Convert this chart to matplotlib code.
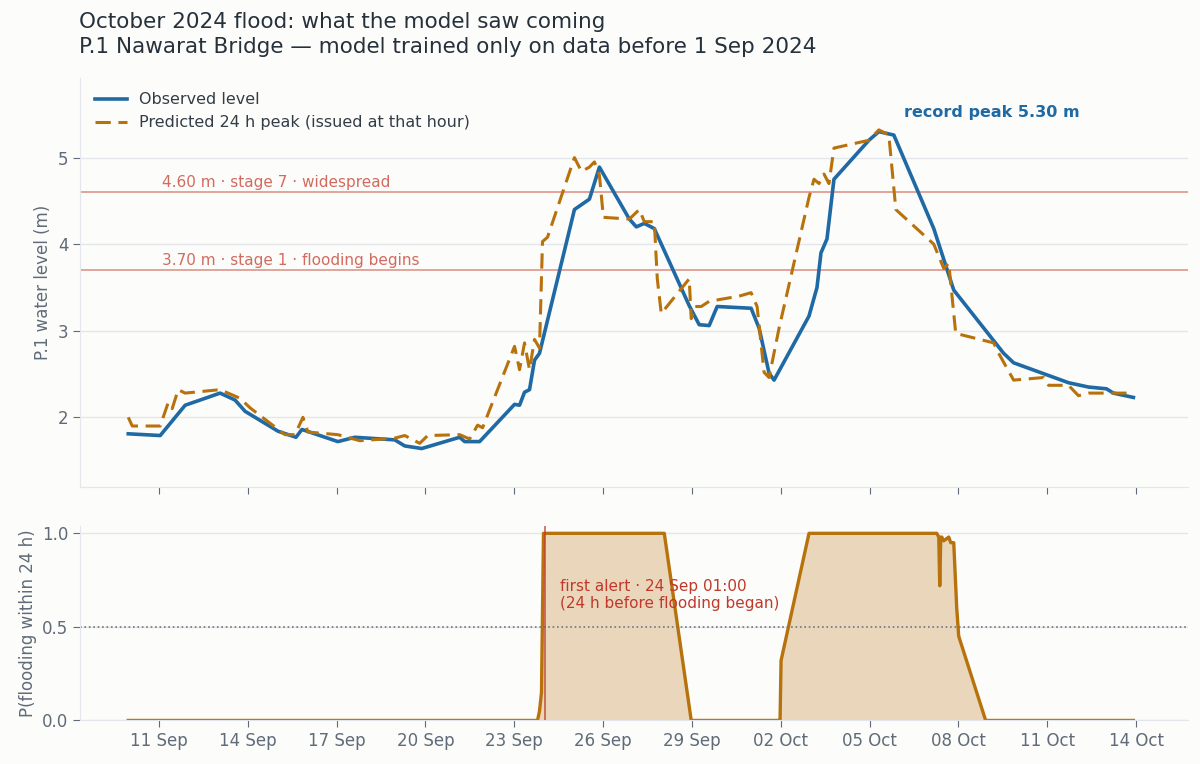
import numpy as np
import matplotlib.pyplot as plt
import matplotlib.dates as mdates
from datetime import datetime, timedelta

T0 = datetime(2024, 9, 10)
PX0, PXD = 129.0, 29.67  # pixel -> day conversion used while reading the picture

# observed level (x pixel, metres)
obs_x = [128, 160, 175, 185, 220, 235, 245, 278, 296, 302, 338, 355, 395, 405, 422, 460, 465, 480,
         515, 520, 525, 530, 535, 540, 575, 590, 600, 630, 637, 645, 655, 690, 700, 710, 718, 752,
         760, 770, 775, 810, 818, 822, 828, 835, 870, 880, 895, 935, 955, 1005, 1015, 1070, 1090,
         1108, 1115, 1135]
obs_y = [1.81, 1.79, 2.0, 2.14, 2.28, 2.2, 2.07, 1.84, 1.77, 1.86, 1.72, 1.77, 1.74, 1.67, 1.64, 1.77,
         1.72, 1.72, 2.15, 2.14, 2.29, 2.32, 2.66, 2.74, 4.40, 4.52, 4.89, 4.29, 4.20, 4.24, 4.18,
         3.29, 3.07, 3.06, 3.28, 3.26, 3.03, 2.51, 2.43, 3.17, 3.5, 3.9, 4.06, 4.75, 5.2, 5.30, 5.26,
         4.18, 3.47, 2.74, 2.63, 2.4, 2.35, 2.33, 2.28, 2.23]

# predicted 24 h peak
pred_x = [128, 132, 160, 168, 172, 178, 185, 220, 240, 250, 285, 295, 303, 308, 338, 360, 395, 405,
          420, 428, 460, 470, 478, 483, 515, 520, 525, 530, 535, 540, 543, 548, 575, 582, 590, 595,
          600, 604, 630, 640, 645, 655, 658, 662, 690, 692, 696, 702, 710, 740, 752, 758, 765, 770,
          780, 810, 815, 820, 825, 830, 835, 870, 880, 890, 897, 935, 945, 950, 957, 995, 1000, 1015,
          1045, 1050, 1070, 1080, 1090, 1135]
pred_y = [2.0, 1.9, 1.9, 2.17, 2.1, 2.32, 2.28, 2.32, 2.22, 2.11, 1.8, 1.8, 2.0, 1.83, 1.8, 1.73,
          1.76, 1.79, 1.7, 1.79, 1.8, 1.75, 1.91, 1.88, 2.82, 2.55, 2.86, 2.55, 2.9, 2.8, 4.03, 4.08,
          5.0, 4.84, 4.89, 4.95, 4.8, 4.31, 4.29, 4.4, 4.26, 4.26, 3.6, 3.2, 3.6, 3.14, 3.28, 3.28,
          3.34, 3.4, 3.44, 3.28, 2.52, 2.46, 3.03, 4.54, 4.75, 4.7, 4.81, 4.7, 5.11, 5.2, 5.32, 5.26,
          4.4, 4.0, 3.72, 3.78, 2.97, 2.86, 2.74, 2.43, 2.46, 2.37, 2.37, 2.25, 2.28, 2.28]

# probability of flooding within 24 h
prob_x = [128, 538, 540, 542, 544, 600, 665, 692, 780, 781, 782, 810, 938, 940, 941, 942, 943, 945,
          950, 952, 955, 958, 960, 987, 1135]
prob_y = [0, 0, 0.05, 0.15, 1.0, 1.0, 1.0, 0, 0, 0.0, 0.32, 1.0, 1.0, 0.98, 0.72, 0.98, 0.98, 0.96,
          0.98, 0.95, 0.95, 0.6, 0.45, 0, 0]


def to_dates(px):
    return [T0 + timedelta(days=(p - PX0) / PXD) for p in px]


BG = '#fcfcfa'
BLUE = '#1f6aa5'
ORANGE = '#b8720c'
RED = '#d26b5f'
GRID = '#e3e6ea'
TXT = '#5f6b78'

plt.rcParams['font.family'] = ['DejaVu Sans']
fig, (ax, ax2) = plt.subplots(2, 1, figsize=(12, 7.64), dpi=100, sharex=True,
                              gridspec_kw={'height_ratios': [2.1, 1], 'hspace': 0.13})
fig.patch.set_facecolor(BG)
fig.subplots_adjust(left=0.067, right=0.99, top=0.898, bottom=0.057)

for a in (ax, ax2):
    a.set_facecolor(BG)
    a.grid(axis='y', color=GRID, lw=1)
    a.set_axisbelow(True)
    for s in ('top', 'right'):
        a.spines[s].set_visible(False)
    for s in ('left', 'bottom'):
        a.spines[s].set_color(GRID)
    a.tick_params(colors=TXT, labelsize=12, length=5)

ax.axhline(4.6, color=RED, lw=1.2, alpha=0.7)
ax.axhline(3.7, color=RED, lw=1.2, alpha=0.7)
ax.text(to_dates([162])[0], 4.66, '4.60 m · stage 7 · widespread', color=RED, fontsize=11)
ax.text(to_dates([162])[0], 3.76, '3.70 m · stage 1 · flooding begins', color=RED, fontsize=11)

ax.plot(to_dates(obs_x), obs_y, color=BLUE, lw=2.6, label='Observed level')
ax.plot(to_dates(pred_x), pred_y, color=ORANGE, lw=2.2, ls=(0, (5, 2.5)),
        label='Predicted 24 h peak (issued at that hour)')
ax.text(to_dates([905])[0], 5.47, 'record peak 5.30 m', color=BLUE, fontsize=11.5, fontweight='bold')
ax.set_ylim(1.2, 5.92)
ax.set_yticks([2, 3, 4, 5])
ax.set_ylabel('P.1 water level (m)', color=TXT, fontsize=12)
leg = ax.legend(loc='upper left', frameon=False, fontsize=11.5)
for t in leg.get_texts():
    t.set_color('#333d47')
ax.tick_params(labelbottom=False)

pd_ = to_dates(prob_x)
ax2.fill_between(pd_, prob_y, color='#e9d6bb')
ax2.plot(pd_, prob_y, color=ORANGE, lw=2.4)
ax2.axhline(0.5, color='#6b7785', lw=1.2, ls=':')
alert = T0 + timedelta(days=14, hours=1)
ax2.axvline(alert, color='#c0392b', lw=1.2, alpha=0.8)
ax2.text(alert + timedelta(hours=12), 0.6, 'first alert · 24 Sep 01:00\n(24 h before flooding began)',
         color='#c0392b', fontsize=11)
ax2.set_ylim(0, 1.04)
ax2.set_yticks([0, 0.5, 1.0])
ax2.set_ylabel('P(flooding within 24 h)', color=TXT, fontsize=12)

ax2.set_xlim(T0 - timedelta(days=1.65), T0 + timedelta(days=35.75))
ax2.xaxis.set_major_formatter(mdates.DateFormatter('%d %b'))
ticks = [datetime(2024, 9, d) for d in (11, 14, 17, 20, 23, 26, 29)] + \
        [datetime(2024, 10, d) for d in (2, 5, 8, 11, 14)]
ax2.set_xticks(ticks)

fig.text(0.066, 0.925, 'October 2024 flood: what the model saw coming\n'
         'P.1 Nawarat Bridge — model trained only on data before 1 Sep 2024',
         fontsize=15.5, color='#26313c', va='bottom', linespacing=1.3)

fig.savefig('out.png', facecolor=BG)
